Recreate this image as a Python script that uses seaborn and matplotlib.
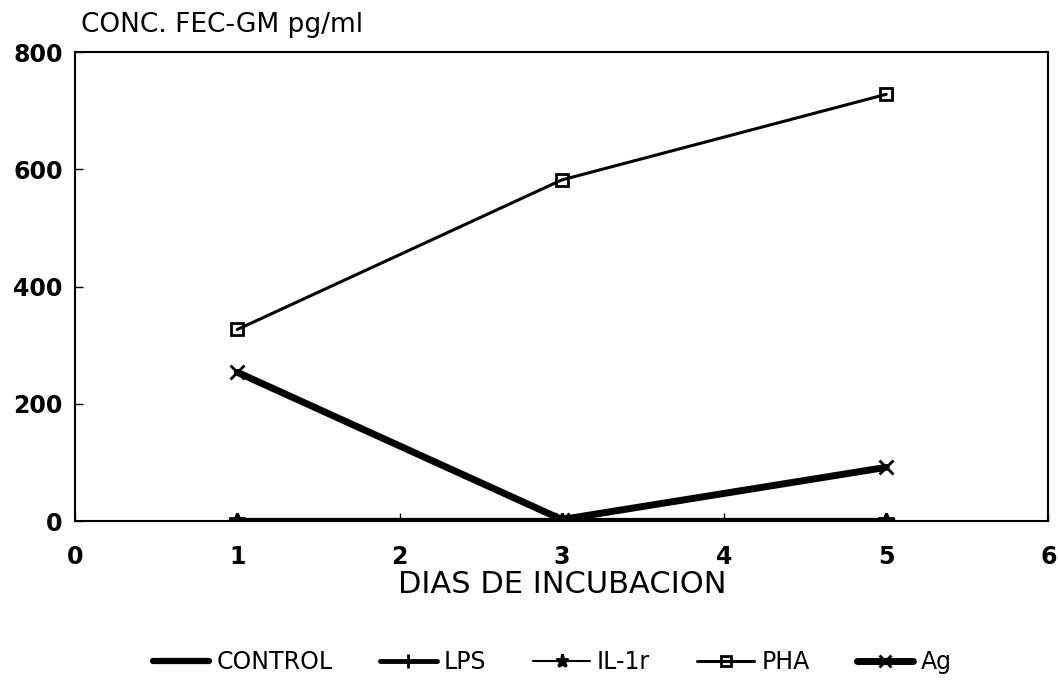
import numpy as np
import pandas as pd
import seaborn as sns
import matplotlib
matplotlib.use("Agg")
import matplotlib.pyplot as plt

dias = [1, 3, 5]
control = [0, 0, 0]
lps = [0, 0, 0]
il1r = [0, 0, 0]
pha = [327, 582, 728]
ag = [254, 3, 92]

series = ['CONTROL', 'LPS', 'IL-1r', 'PHA', 'Ag']
valores = [control, lps, il1r, pha, ag]
marcadores = {'CONTROL': '', 'LPS': '|', 'IL-1r': '*', 'PHA': 's', 'Ag': 'x'}
grosores = {'CONTROL': 4.5, 'LPS': 3.5, 'IL-1r': 1.5, 'PHA': 2.2, 'Ag': 5}
tam_marcador = {'CONTROL': 0, 'LPS': 12, 'IL-1r': 12, 'PHA': 9, 'Ag': 10}

df = pd.DataFrame({
    'dia': dias * len(series),
    'conc': sum(valores, []),
    'serie': np.repeat(series, len(dias)),
})

sns.set_theme(style='ticks')
plt.rcParams['font.family'] = ['DejaVu Sans']
plt.rcParams['text.color'] = 'black'
plt.rcParams['axes.labelcolor'] = 'black'
plt.rcParams['xtick.color'] = 'black'
plt.rcParams['ytick.color'] = 'black'

fig = plt.figure(figsize=(10.58, 6.85), dpi=100)
ax = fig.add_axes([0.071, 0.239, 0.92, 0.685])

for s in series:
    d = df[df['serie'] == s]
    sns.lineplot(data=d, x='dia', y='conc', ax=ax, color='black',
                 linewidth=grosores[s], marker=marcadores[s] or None,
                 markersize=tam_marcador[s], markeredgewidth=2,
                 markerfacecolor='none' if s == 'PHA' else 'black',
                 markeredgecolor='black', label=s)

ax.set_xlim(0, 6)
ax.set_ylim(0, 800)
ax.set_xticks(range(0, 7))
ax.set_yticks(range(0, 801, 200))
ax.tick_params(direction='in', length=6, width=1, labelsize=17)
ax.tick_params(axis='x', pad=17)
ax.tick_params(axis='y', pad=9)
for lab in ax.get_xticklabels() + ax.get_yticklabels():
    lab.set_fontweight('bold')
for sp in ax.spines.values():
    sp.set_visible(True)
    sp.set_linewidth(1.5)
    sp.set_color('black')

ax.set_xlabel('DIAS DE INCUBACION', fontsize=22, labelpad=1)
ax.set_ylabel('')
fig.text(0.077, 0.944, 'CONC. FEC-GM pg/ml', fontsize=19, ha='left', va='bottom')

ax.legend(loc='upper center', bbox_to_anchor=(0.49, -0.23), ncol=5,
          frameon=False, fontsize=17, handlelength=2.4, columnspacing=2.0,
          handletextpad=0.3, markerscale=0.8)

fig.savefig('out.png', dpi=100, facecolor='white')
